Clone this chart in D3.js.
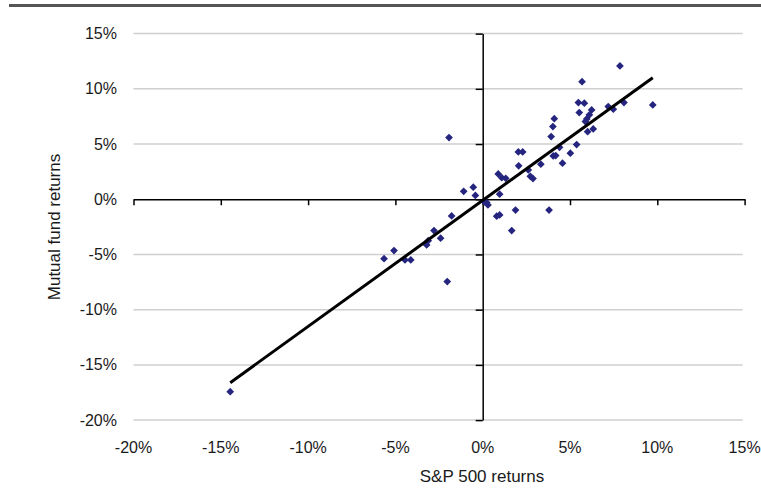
<!DOCTYPE html>
<html>
<head>
<meta charset="utf-8">
<script src="https://cdn.jsdelivr.net/npm/d3@7"></script>
<style>
body { margin: 0; background: #fff; }
svg text { font-family: "Liberation Sans", Arial, sans-serif; fill: #1a1a1a; }
</style>
</head>
<body>
<div id="the_chart"></div>
<script>
// S&P 500 returns (%) vs mutual fund returns (%)
var spReturns = [7.86, 5.69, 9.74, 8.09, 7.19, 7.48, 5.48, 5.82, 5.53, 6.24,
	6.11, 5.96, 5.88, 6.33, 6.01, 4.10, 4.02, 3.92, 5.38, 4.40,
	5.02, 4.04, 4.18, 4.57, 3.33, 2.04, 2.29, 2.06, 2.61, 2.73,
	2.88, 0.89, 1.09, 1.32, 0.97, -1.09, -0.54, -0.42, 0.08, 0.30,
	0.80, 0.97, 1.88, 3.80, 1.66, -1.78, -2.79, -3.12, -3.21, -2.41,
	-5.08, -5.65, -4.45, -4.12, -2.03, -1.93, -14.46, 0.23];
var fundReturns = [12.07, 10.65, 8.54, 8.75, 8.39, 8.15, 8.75, 8.70, 7.85, 8.09,
	7.64, 7.27, 7.03, 6.37, 6.12, 7.30, 6.58, 5.68, 4.95, 4.70,
	4.17, 3.92, 3.96, 3.26, 3.18, 4.28, 4.28, 3.03, 2.65, 2.08,
	1.87, 2.29, 1.95, 1.90, 0.46, 0.72, 1.09, 0.35, -0.21, -0.52,
	-1.53, -1.42, -0.98, -0.98, -2.84, -1.51, -2.84, -3.75, -4.14, -3.53,
	-4.65, -5.38, -5.50, -5.50, -7.46, 5.58, -17.43, -0.30];
// trend line end points (x, y)
var trendX = [-14.46, 9.74];
var trendY = [-16.61, 11.01];
var tickValues = [-20, -15, -10, -5, 0, 5, 10, 15];

var w = 761;
var h = 494;

var svg = d3.select("#the_chart")
	.append("svg")
	.attr("width", w)
	.attr("height", h);

var xscale = d3.scaleLinear().domain([-20, 15]).range([133.5, 744.6]);
var yscale = d3.scaleLinear().domain([-20, 15]).range([420.1, 33.6]);

// heavy rule across the top
svg.append("rect")
	.attr("x", 9).attr("y", 4)
	.attr("width", w - 9).attr("height", 3)
	.attr("fill", "#555");

// horizontal gridlines
svg.selectAll("line.grid")
	.data(tickValues.filter(function(d) { return d != 0; }))
	.enter().append("line")
	.attr("class", "grid")
	.attr("x1", xscale(-20)).attr("x2", xscale(15) - 2)
	.attr("y1", function(d) { return yscale(d); })
	.attr("y2", function(d) { return yscale(d); })
	.attr("stroke", "#cfcfcf")
	.attr("stroke-width", 1.5);

// axes through the origin
var xaxis = d3.axisBottom(xscale).tickValues(tickValues).tickFormat("").tickSize(6).tickSizeOuter(0);
var yaxis = d3.axisLeft(yscale).tickValues(tickValues).tickFormat("").tickSize(7).tickSizeOuter(0);

svg.append("g")
	.attr("class", "x axis")
	.attr("transform", "translate(0," + yscale(0) + ")")
	.call(xaxis);

svg.append("g")
	.attr("class", "y axis")
	.attr("transform", "translate(" + xscale(0) + ",0)")
	.call(yaxis);

svg.selectAll(".axis path, .axis line")
	.attr("stroke", "#000")
	.attr("stroke-width", 1.5);

// tick labels sit at the edges of the plot
svg.selectAll("text.ylab")
	.data(tickValues)
	.enter().append("text")
	.attr("class", "ylab")
	.attr("x", 117)
	.attr("y", function(d) { return yscale(d) + 5.5; })
	.attr("text-anchor", "end")
	.attr("font-size", 16)
	.text(function(d) { return d + "%"; });

svg.selectAll("text.xlab")
	.data(tickValues)
	.enter().append("text")
	.attr("class", "xlab")
	.attr("x", function(d) { return xscale(d); })
	.attr("y", 453)
	.attr("text-anchor", "middle")
	.attr("font-size", 16)
	.text(function(d) { return d + "%"; });

svg.append("text")
	.attr("x", 482)
	.attr("y", 482)
	.attr("text-anchor", "middle")
	.attr("font-size", 17)
	.text("S&P 500 returns");

svg.append("text")
	.attr("transform", "translate(60,227) rotate(-90)")
	.attr("text-anchor", "middle")
	.attr("font-size", 17)
	.text("Mutual fund returns");

// points
var points = spReturns.map(function(d, i) { return {x: d, y: fundReturns[i]}; });
var diamond = d3.symbol().type(d3.symbolSquare).size(30);

svg.selectAll("path.pt")
	.data(points)
	.enter().append("path")
	.attr("class", "pt")
	.attr("d", diamond)
	.attr("transform", function(d) {
		return "translate(" + xscale(d.x) + "," + yscale(d.y) + ") rotate(45)";
	})
	.attr("fill", "#25257f");

// trend line
var line = d3.line()
	.x(function(d, i) { return xscale(trendX[i]); })
	.y(function(d, i) { return yscale(d); });

svg.append("path")
	.datum(trendY)
	.attr("d", line)
	.attr("fill", "none")
	.attr("stroke", "#000")
	.attr("stroke-width", 3);
</script>
</body>
</html>
